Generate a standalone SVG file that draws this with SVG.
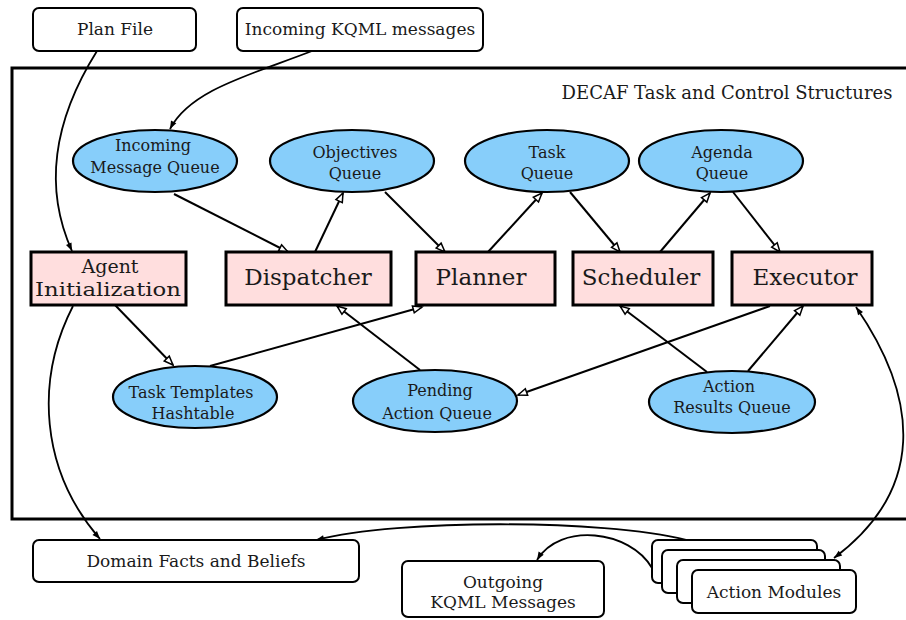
<svg xmlns="http://www.w3.org/2000/svg" width="906" height="620" viewBox="0 0 906 620">
  <defs>
    <marker id="open" markerUnits="userSpaceOnUse" markerWidth="12" markerHeight="10" refX="9" refY="3.5" orient="auto" overflow="visible">
      <path d="M0,0 L9,3.5 L0,7 z" fill="#fff" stroke="#000" stroke-width="1.5"/>
    </marker>
    <marker id="solid" markerUnits="userSpaceOnUse" markerWidth="10" markerHeight="8" refX="8" refY="3" orient="auto-start-reverse" overflow="visible">
      <path d="M0,0 L8,3 L0,6 z" fill="#000"/>
    </marker>
    <style>
      text { font-family: "DejaVu Serif", "Liberation Serif", serif; fill: #1a1a1a; text-anchor: middle; }
      .frame { fill: none; stroke: #000; stroke-width: 3; }
      .ext { fill: #fff; stroke: #000; stroke-width: 2; }
      .queue { fill: #87cefa; stroke: #000; stroke-width: 2.2; }
      .proc { fill: #ffdede; stroke: #000; stroke-width: 3; }
      .ext-t { font-size: 17px; }
      .q-t { font-size: 16px; }
      .p-t { font-size: 23px; }
      .p-t2 { font-size: 19px; }
      .edge { fill: none; stroke: #000; stroke-width: 2; marker-end: url(#open); }
      .flow { fill: none; stroke: #000; stroke-width: 1.8; marker-end: url(#solid); }
    </style>
  </defs>

  <!-- enclosing frame -->
  <rect class="frame" x="12" y="68" width="897" height="451"/>
  <text x="727" y="99" style="font-size:18px">DECAF Task and Control Structures</text>

  <!-- connectors -->
  <g id="connectors">
    <path class="flow" d="M97,51 C60,110 40,180 72,251"/>
    <path class="flow" d="M312,51 C250,75 190,90 170,129"/>
    <path class="edge" d="M174,194 L288,252"/>
    <path class="edge" d="M315,252 L343,193"/>
    <path class="edge" d="M385,192 L445,252"/>
    <path class="edge" d="M488,252 L542,193"/>
    <path class="edge" d="M570,192 L620,252"/>
    <path class="edge" d="M660,252 L710,193"/>
    <path class="edge" d="M733,192 L780,252"/>
    <path class="edge" d="M115,305 L173,365"/>
    <path class="edge" d="M210,366 L422,307"/>
    <path class="edge" d="M420,370 L337,306"/>
    <path class="edge" d="M770,306 L518,395"/>
    <path class="edge" d="M707,372 L620,306"/>
    <path class="edge" d="M748,371 L803,306"/>
    <path class="flow" style="marker-start:url(#solid)" d="M856,307 C920,400 925,490 834,558"/>
    <path class="flow" d="M73,306 C35,380 40,470 100,539"/>
    <path class="flow" d="M687,540 C600,519 400,519 316,540"/>
    <path class="flow" d="M652,568 C630,530 560,522 537,560"/>
  </g>

  <!-- external inputs -->
  <g id="plan-file">
    <rect class="ext" x="33" y="8" width="163" height="43" rx="6"/>
    <text class="ext-t" x="115" y="35">Plan File</text>
  </g>
  <g id="incoming-kqml">
    <rect class="ext" x="237" y="8" width="246" height="43" rx="6"/>
    <text class="ext-t" x="360" y="35">Incoming KQML messages</text>
  </g>

  <!-- queues -->
  <g id="incoming-message-queue">
    <ellipse class="queue" cx="155" cy="161" rx="82" ry="31"/>
    <text class="q-t" x="153" y="151">Incoming</text>
    <text class="q-t" x="155" y="173">Message Queue</text>
  </g>
  <g id="objectives-queue">
    <ellipse class="queue" cx="352" cy="161" rx="82" ry="31"/>
    <text class="q-t" x="355" y="158">Objectives</text>
    <text class="q-t" x="355" y="179">Queue</text>
  </g>
  <g id="task-queue">
    <ellipse class="queue" cx="547" cy="161" rx="82" ry="31"/>
    <text class="q-t" x="547" y="158">Task</text>
    <text class="q-t" x="547" y="179">Queue</text>
  </g>
  <g id="agenda-queue">
    <ellipse class="queue" cx="721" cy="161" rx="82" ry="31"/>
    <text class="q-t" x="722" y="158">Agenda</text>
    <text class="q-t" x="722" y="179">Queue</text>
  </g>

  <!-- processing components -->
  <g id="agent-initialization">
    <rect class="proc" x="31" y="252" width="155" height="53"/>
    <text class="p-t2" x="110" y="273">Agent</text>
    <text class="p-t2" x="108" y="296" textLength="146" lengthAdjust="spacingAndGlyphs">Initialization</text>
  </g>
  <g id="dispatcher">
    <rect class="proc" x="226" y="252" width="165" height="53"/>
    <text class="p-t" x="308" y="285">Dispatcher</text>
  </g>
  <g id="planner">
    <rect class="proc" x="416" y="252" width="139" height="53"/>
    <text class="p-t" x="481" y="285">Planner</text>
  </g>
  <g id="scheduler">
    <rect class="proc" x="573" y="252" width="140" height="53"/>
    <text class="p-t" x="641" y="285">Scheduler</text>
  </g>
  <g id="executor">
    <rect class="proc" x="732" y="252" width="140" height="53"/>
    <text class="p-t" x="805" y="285">Executor</text>
  </g>

  <g id="task-templates-hashtable">
    <ellipse class="queue" cx="195" cy="397" rx="82" ry="31"/>
    <text class="q-t" x="191" y="398">Task Templates</text>
    <text class="q-t" x="193" y="419">Hashtable</text>
  </g>
  <g id="pending-action-queue">
    <ellipse class="queue" cx="435" cy="401" rx="82" ry="31"/>
    <text class="q-t" x="440" y="396">Pending</text>
    <text class="q-t" x="437" y="419">Action Queue</text>
  </g>
  <g id="action-results-queue">
    <ellipse class="queue" cx="732" cy="402" rx="83" ry="31"/>
    <text class="q-t" x="729" y="392">Action</text>
    <text class="q-t" x="732" y="413">Results Queue</text>
  </g>

  <!-- external stores and outputs -->
  <g id="domain-facts">
    <rect class="ext" x="33" y="540" width="326" height="42" rx="6"/>
    <text class="ext-t" x="196" y="567">Domain Facts and Beliefs</text>
  </g>
  <g id="outgoing-kqml">
    <rect class="ext" x="402" y="561" width="202" height="56" rx="6"/>
    <text class="ext-t" x="503" y="588">Outgoing</text>
    <text class="ext-t" x="503" y="608">KQML Messages</text>
  </g>
  <g id="action-modules">
    <rect class="ext" x="652" y="540" width="165" height="43" rx="6"/>
    <rect class="ext" x="662" y="550" width="163" height="43" rx="6"/>
    <rect class="ext" x="677" y="560" width="163" height="43" rx="6"/>
    <rect class="ext" x="692" y="570" width="164" height="43" rx="6"/>
    <text class="ext-t" x="774" y="598">Action Modules</text>
  </g>
</svg>
